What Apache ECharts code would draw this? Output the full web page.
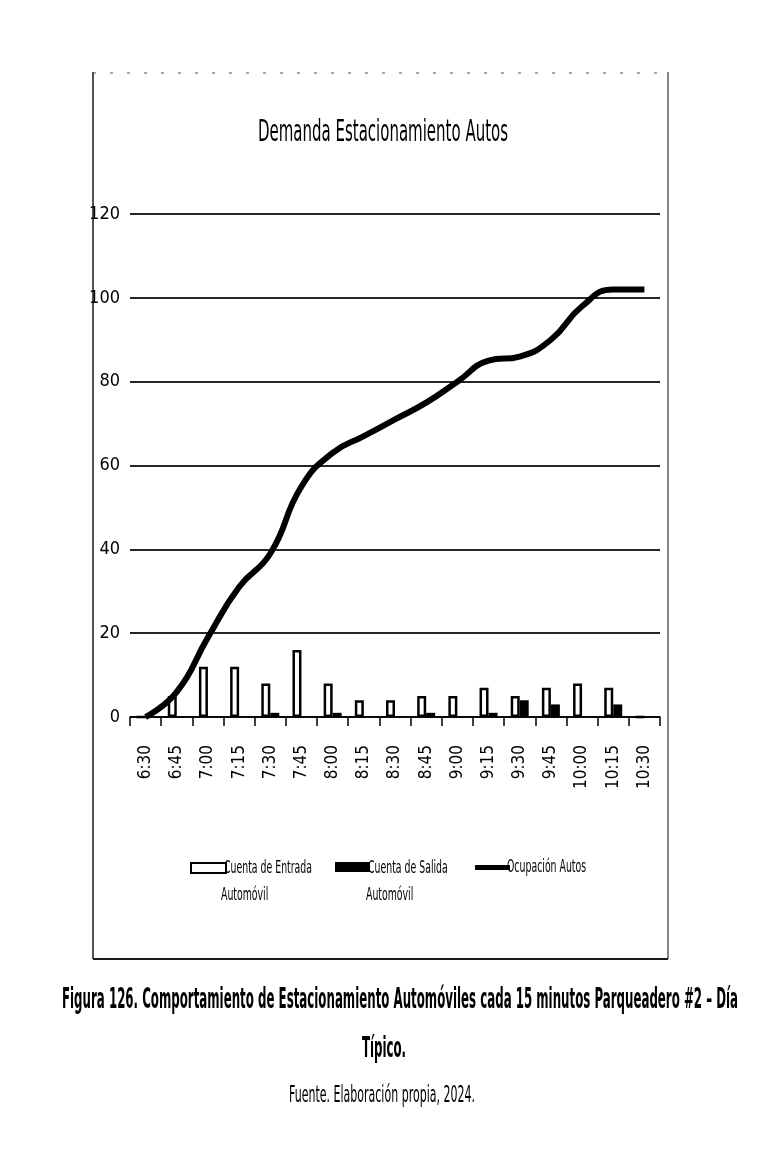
<!DOCTYPE html>
<html>
<head>
<meta charset="utf-8">
<script src="https://cdn.jsdelivr.net/npm/echarts@6/dist/echarts.min.js"></script>
<style>
html,body{margin:0;padding:0;background:#fff;}
#chart{width:763px;height:1165px;}
</style>
</head>
<body>
<div id="chart"></div>
<script>
var categories = ['6:30','6:45','7:00','7:15','7:30','7:45','8:00','8:15','8:30','8:45','9:00','9:15','9:30','9:45','10:00','10:15','10:30'];
var entrada = [0, 5, 12, 12, 8, 16, 8, 4, 4, 5, 5, 7, 5, 7, 8, 7, 0];
var salida  = [0, 0, 0, 0, 1, 0, 1, 0, 0, 1, 0, 1, 4, 3, 0, 3, 0];
var ocupacion = [0, 6, 19, 31, 39, 55, 63, 67, 71, 75, 80, 85, 86, 90, 98, 102, 102];
var yTicks = [0, 20, 40, 60, 80, 100, 120];

var FAM = "'DejaVu Sans Condensed', 'Liberation Sans', sans-serif";
var nameE = 'Cuenta de Entrada Automóvil';
var nameS = 'Cuenta de Salida Automóvil';
var nameO = 'Ocupación Autos';

var titleText = 'Demanda Estacionamiento Autos';
var cap1 = 'Figura 126. Comportamiento de Estacionamiento Automóviles cada 15 minutos Parqueadero #2 – Día';
var cap2 = 'Típico.';
var cap3 = 'Fuente. Elaboración propia, 2024.';

var mctx = document.createElement('canvas').getContext('2d');
function fitScale(text, font, target) {
  mctx.font = font;
  var w = mctx.measureText(text).width;
  return w > 0 ? target / w : 1;
}
function scaledText(text, x, y, size, weight, target, align, sx) {
  var font = weight + ' ' + size + 'px ' + FAM;
  var s = sx || fitScale(text, font, target);
  return {
    type: 'text', x: x, y: y, scaleX: s, silent: true,
    style: {text: text, font: font, fill: '#000', align: align || 'center', verticalAlign: 'middle'}
  };
}
var capScale = fitScale(cap1, 'bold 28px ' + FAM, 676);
var legScale = fitScale('Cuenta de Entrada', 'normal 18px ' + FAM, 88);

var chart = echarts.init(document.getElementById('chart'), null, {renderer: 'canvas'});
var frameStyle = {stroke: '#1a1a1a', lineWidth: 1.5};
var emptyLabel = function () { return ''; };
var option = {
  backgroundColor: '#fff',
  animation: false,
  textStyle: {fontFamily: FAM, color: '#000'},
  graphic: [
    {type: 'line', shape: {x1: 93, y1: 72, x2: 93, y2: 959}, style: frameStyle, silent: true},
    {type: 'line', shape: {x1: 668, y1: 72, x2: 668, y2: 959}, style: {stroke: '#333', lineWidth: 1.2}, silent: true},
    {type: 'line', shape: {x1: 93, y1: 959, x2: 668, y2: 959}, style: {stroke: '#1a1a1a', lineWidth: 2}, silent: true},
    {type: 'line', shape: {x1: 93, y1: 73, x2: 668, y2: 73}, style: {stroke: '#555', lineWidth: 1.2, lineDash: [3, 14]}, silent: true},
    scaledText(titleText, 383, 133, 30, 'normal', 250),
    scaledText(cap1, 400, 1001, 28, 'bold', 676, 'center', capScale),
    scaledText(cap2, 384, 1050, 28, 'bold', 0, 'center', capScale),
    scaledText(cap3, 382, 1096, 23, 'normal', 186),
    scaledText('Cuenta de Entrada', 224, 868, 18, 'normal', 0, 'left', legScale),
    scaledText('Automóvil', 221, 895, 18, 'normal', 0, 'left', legScale),
    scaledText('Cuenta de Salida', 368, 868, 18, 'normal', 0, 'left', legScale),
    scaledText('Automóvil', 366, 895, 18, 'normal', 0, 'left', legScale),
    scaledText('Ocupación Autos', 507, 867, 18, 'normal', 0, 'left', legScale)
  ],
  legend: [
    {data: [{name: nameE}], left: 185, top: 857, icon: 'rect', itemWidth: 35, itemHeight: 10,
     formatter: emptyLabel, textStyle: {fontSize: 1}},
    {data: [{name: nameS}], left: 330, top: 857, icon: 'rect', itemWidth: 35, itemHeight: 10,
     formatter: emptyLabel, textStyle: {fontSize: 1}},
    {data: [{name: nameO}], left: 470, top: 860, icon: 'rect', itemWidth: 35, itemHeight: 5,
     formatter: emptyLabel, textStyle: {fontSize: 1}}
  ],
  grid: {left: 130, right: 103, top: 214, bottom: 448, containLabel: false},
  xAxis: {
    type: 'category', data: categories, boundaryGap: true,
    axisLine: {show: true, lineStyle: {color: '#000', width: 1.5}},
    axisTick: {show: true, length: 9, lineStyle: {color: '#000', width: 1.5}},
    axisLabel: {rotate: 90, margin: 28, fontFamily: FAM, fontSize: 17, color: '#000', interval: 0}
  },
  yAxis: {
    type: 'value', min: yTicks[0], max: yTicks[yTicks.length - 1], interval: 20,
    axisLine: {show: false}, axisTick: {show: false},
    axisLabel: {margin: 10, fontFamily: FAM, fontSize: 18, color: '#000'},
    splitLine: {show: true, lineStyle: {color: '#262626', width: 2}}
  },
  series: [
    {name: nameE, type: 'bar', data: entrada, barWidth: 9, barGap: '0%',
     itemStyle: {color: '#fff', borderColor: '#000', borderWidth: 2.5}},
    {name: nameS, type: 'bar', data: salida, barWidth: 9,
     itemStyle: {color: '#000'}},
    {name: nameO, type: 'line', data: ocupacion, smooth: true, symbol: 'none', z: 5,
     lineStyle: {color: '#000', width: 6}, itemStyle: {color: '#000'}}
  ]
};
chart.setOption(option);
</script>
</body>
</html>
